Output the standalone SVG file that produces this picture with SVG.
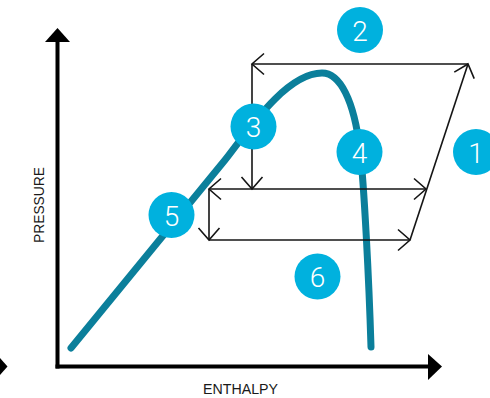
<svg xmlns="http://www.w3.org/2000/svg" width="490" height="398" viewBox="0 0 490 398">
<defs>
<style>
.axis{stroke:#000;stroke-width:4;fill:none}
.arr{stroke:#151515;stroke-width:1.6;fill:none}
.curve{stroke:#0b7f9b;stroke-width:7;fill:none;stroke-linecap:round;stroke-linejoin:round}
.dot{fill:#00b1de}
.num{font-family:Roboto,"Liberation Sans",sans-serif;font-weight:300;font-size:28px;fill:#fff;text-anchor:middle}
.lbl{font-family:"Liberation Sans",Arial,sans-serif;font-size:15.5px;fill:#1a1a1a;text-anchor:middle}
</style>
<marker id="chev" markerUnits="userSpaceOnUse" markerWidth="30" markerHeight="30" viewBox="-15 -15 30 30" refX="0" refY="0" orient="auto" overflow="visible">
<path d="M-12,-10.5 L0,0 L-12,10.5" fill="none" stroke="#151515" stroke-width="1.6"/>
</marker>
</defs>

<g id="axes">
<line class="axis" x1="57.5" y1="40" x2="57.5" y2="368.5"/>
<polygon points="57.5,28 45,42 70,42" fill="#000"/>
<line class="axis" x1="55.5" y1="366.5" x2="430" y2="366.5"/>
<polygon points="442,366.5 428,354 428,380" fill="#000"/>
<polygon points="0,358 7.5,366.5 0,375" fill="#000"/>
<text class="lbl" transform="translate(43.5,205) rotate(-90)" textLength="76" lengthAdjust="spacingAndGlyphs">PRESSURE</text>
<text class="lbl" x="240.5" y="394" textLength="75" lengthAdjust="spacingAndGlyphs">ENTHALPY</text>
</g>

<g id="saturation-curve">
<path class="curve" d="M71,348 L225,160 C245,135 285,73 322,73 C340,73 354,100 360,150 C364,183 369,280 371,347"/>
</g>

<g id="connectors">
<path class="arr" d="M468,64 L252,64" marker-end="url(#chev)"/>
<path class="arr" d="M252,64 L252,189" marker-end="url(#chev)"/>
<path class="arr" d="M252,189 L209,189" marker-end="url(#chev)"/>
<path class="arr" d="M252,189 L426,189" marker-end="url(#chev)"/>
<path class="arr" d="M209,189 L209,240" marker-end="url(#chev)"/>
<path class="arr" d="M209,240 L410,240" marker-end="url(#chev)"/>
<path class="arr" d="M410,240 L468,64" marker-end="url(#chev)"/>
</g>

<g id="n1"><circle class="dot" cx="476" cy="152" r="23"/><text class="num" x="476" y="162.5">1</text></g>
<g id="n2"><circle class="dot" cx="360" cy="30" r="23"/><text class="num" x="360" y="40.5">2</text></g>
<g id="n3"><circle class="dot" cx="253.5" cy="126.5" r="23"/><text class="num" x="253.5" y="137">3</text></g>
<g id="n4"><circle class="dot" cx="359.5" cy="152" r="23"/><text class="num" x="359.5" y="162.5">4</text></g>
<g id="n5"><circle class="dot" cx="171.5" cy="215" r="23"/><text class="num" x="171.5" y="225.5">5</text></g>
<g id="n6"><circle class="dot" cx="317.5" cy="276.5" r="23"/><text class="num" x="317.5" y="287">6</text></g>
</svg>
